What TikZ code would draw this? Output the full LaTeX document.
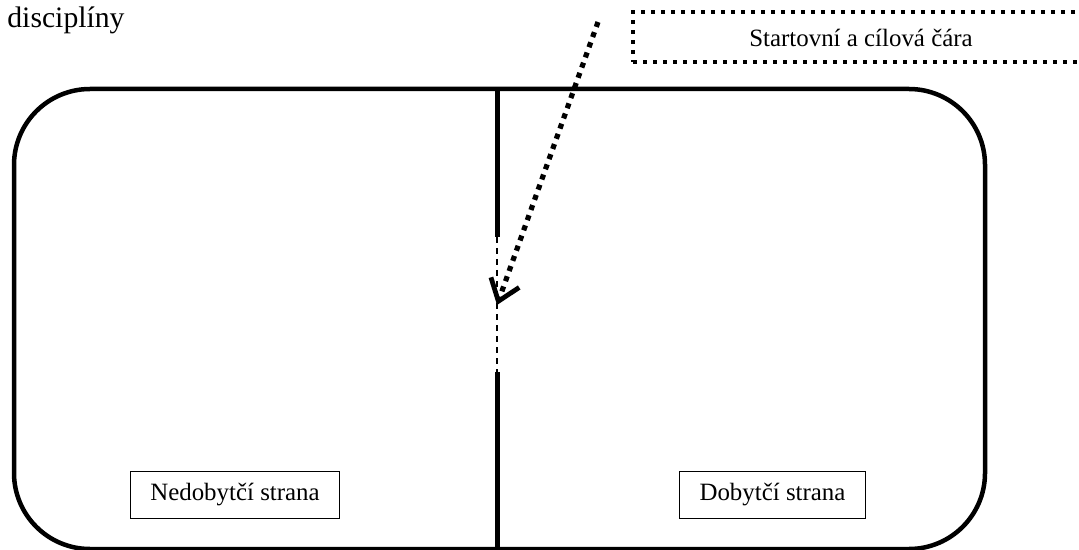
\documentclass[tikz,border=0pt]{standalone}
\usepackage{fontspec}
\setmainfont{Liberation Serif}
\usetikzlibrary{arrows.meta}

\tikzset{
  sidebox/.style={draw, line width=0.5pt, inner xsep=10pt, minimum height=23.5pt,
    font=\fontsize{12.45}{14}\selectfont},
  dotline/.style={line width=2pt, dash pattern=on 2pt off 3pt},
}

\begin{document}
\begin{tikzpicture}[x=0.5pt,y=-0.5pt]
  \useasboundingbox (0,0) rectangle (1079,550);

  \draw[line width=2.25pt, rounded corners=38pt] (14,89) rectangle (985,549);

  \node[anchor=base west, inner sep=0pt, font=\fontsize{14.85}{18}\selectfont](title) at (7,28) {disciplíny};
  \node[draw, dotline, minimum width=228pt, minimum height=25pt,
    font=\fontsize{12.45}{14}\selectfont](finish) at (861,37.5) {Startovní a cílová čára};

  \node[sidebox](nedob) at (235,494.5) {Nedobytčí strana};
  \node[sidebox](dob) at (772.5,494.5) {Dobytčí strana};

  \coordinate (divtop) at (497,89);
  \coordinate (gaptop) at (497,237);
  \coordinate (gapbot) at (497,372);
  \coordinate (divbot) at (497,549);
  \coordinate (arrstart) at (598,22);
  \coordinate (arrtip) at (497,305);

  \draw[line width=2.5pt] (divtop) -- (gaptop);
  \draw[line width=0.7pt, dash pattern=on 3pt off 2.5pt] (gaptop) -- (gapbot);
  \draw[line width=2.5pt] (gapbot) -- (divbot);
  \draw[line width=2.6pt, dash pattern=on 2.6pt off 2.8pt,
    -{Straight Barb[length=10pt,width=15pt,line width=2.4pt]}] (arrstart) -- (arrtip);
\end{tikzpicture}
\end{document}
